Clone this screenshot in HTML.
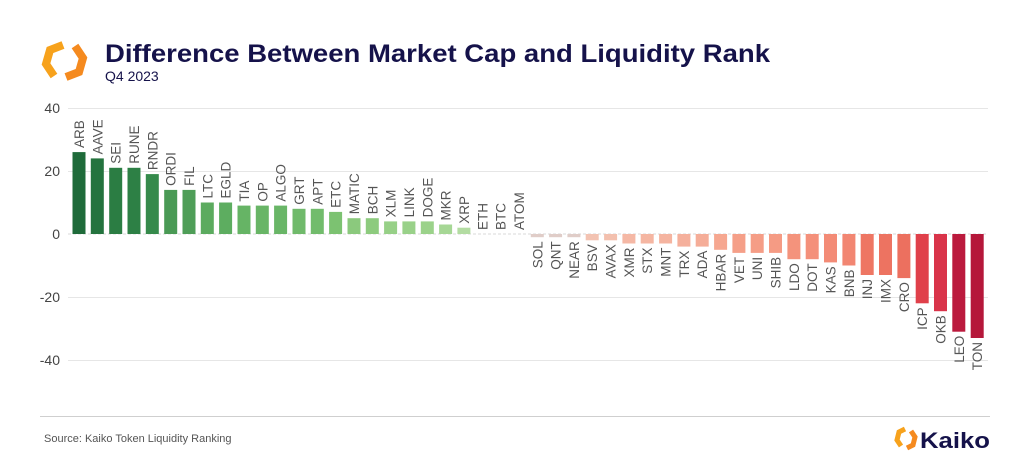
<!DOCTYPE html>
<html><head><meta charset="utf-8"><style>
html,body{margin:0;padding:0;background:#fff;}
svg{display:block;font-family:"Liberation Sans",Arial,sans-serif;}
.l{font-size:13.5px;fill:#555;}
.y{font-size:14px;fill:#444;text-anchor:end;}
</style></head><body>
<svg width="1024" height="473" viewBox="0 0 1024 473" xmlns="http://www.w3.org/2000/svg">
<rect width="1024" height="473" fill="#fff"/>
<!-- logo -->
<g fill="none" stroke-width="8" stroke-linejoin="miter">
<polyline points="63,45 50,50 46,64 54,76" stroke="#f7a21c"/>
<polyline points="66,77 79,72 83,58 75,46" stroke="#f58a1f"/>
</g>
<text x="105" y="62" font-size="25" font-weight="bold" fill="#15124a" textLength="665" lengthAdjust="spacingAndGlyphs">Difference Between Market Cap and Liquidity Rank</text>
<text x="105" y="81" font-size="14" fill="#15124a">Q4 2023</text>
<!-- grid -->
<g stroke="#e6e6e6" stroke-width="1">
<line x1="68" y1="108.5" x2="988" y2="108.5"/>
<line x1="68" y1="171.5" x2="988" y2="171.5"/>
<line x1="68" y1="297.5" x2="988" y2="297.5"/>
<line x1="68" y1="360.5" x2="988" y2="360.5"/>
</g>
<line x1="68" y1="234" x2="988" y2="234" stroke="#d8d8d8" stroke-width="1" stroke-dasharray="3,2"/>
<g class="y">
<text x="60" y="113">40</text>
<text x="60" y="176">20</text>
<text x="60" y="239">0</text>
<text x="60" y="302">-20</text>
<text x="60" y="365">-40</text>
</g>
<line x1="40" y1="416.5" x2="990" y2="416.5" stroke="#cfcfcf"/>
<text x="44" y="442" font-size="11" fill="#555">Source: Kaiko Token Liquidity Ranking</text>
<g fill="none" stroke-width="5">
<polyline points="905,429 899,432 897,440 901,446" stroke="#f7a21c"/>
<polyline points="907,448 913,445 915,437 911,431" stroke="#f58a1f"/>
</g>
<text x="920" y="448" font-size="22" font-weight="bold" fill="#15124a" textLength="70" lengthAdjust="spacingAndGlyphs">Kaiko</text>
<!-- bars -->
<g>
<rect x="72.5" y="152.1" width="13" height="81.9" fill="#1f6b3a"/>
<rect x="90.8" y="158.4" width="13" height="75.6" fill="#24733e"/>
<rect x="109.2" y="167.8" width="13" height="66.2" fill="#2b7d43"/>
<rect x="127.5" y="167.8" width="13" height="66.2" fill="#2d8045"/>
<rect x="145.8" y="174.1" width="13" height="59.9" fill="#358a4b"/>
<rect x="164.2" y="189.9" width="13" height="44.1" fill="#4a9a55"/>
<rect x="182.5" y="189.9" width="13" height="44.1" fill="#4f9e58"/>
<rect x="200.8" y="202.5" width="13" height="31.5" fill="#5cab5f"/>
<rect x="219.1" y="202.5" width="13" height="31.5" fill="#5dad60"/>
<rect x="237.5" y="205.6" width="13" height="28.4" fill="#66b465"/>
<rect x="255.8" y="205.6" width="13" height="28.4" fill="#68b566"/>
<rect x="274.1" y="205.6" width="13" height="28.4" fill="#69b667"/>
<rect x="292.5" y="208.8" width="13" height="25.2" fill="#70ba6b"/>
<rect x="310.8" y="208.8" width="13" height="25.2" fill="#72bc6c"/>
<rect x="329.1" y="211.9" width="13" height="22.1" fill="#7cc271"/>
<rect x="347.5" y="218.2" width="13" height="15.8" fill="#8bc97d"/>
<rect x="365.8" y="218.2" width="13" height="15.8" fill="#8dcb7e"/>
<rect x="384.1" y="221.4" width="13" height="12.6" fill="#97d087"/>
<rect x="402.4" y="221.4" width="13" height="12.6" fill="#99d189"/>
<rect x="420.8" y="221.4" width="13" height="12.6" fill="#9bd28a"/>
<rect x="439.1" y="224.5" width="13" height="9.5" fill="#a6d795"/>
<rect x="457.4" y="227.7" width="13" height="6.3" fill="#b3dca2"/>
<rect x="530.8" y="234" width="13" height="3.2" fill="#e0cdc8"/>
<rect x="549.1" y="234" width="13" height="3.2" fill="#e0cdc8"/>
<rect x="567.4" y="234" width="13" height="3.2" fill="#e0cdc8"/>
<rect x="585.7" y="234" width="13" height="6.3" fill="#f3c3b2"/>
<rect x="604.1" y="234" width="13" height="6.3" fill="#f3c0ae"/>
<rect x="622.4" y="234" width="13" height="9.5" fill="#f5b8a5"/>
<rect x="640.7" y="234" width="13" height="9.5" fill="#f5b6a2"/>
<rect x="659.1" y="234" width="13" height="9.5" fill="#f5b4a0"/>
<rect x="677.4" y="234" width="13" height="12.6" fill="#f5b09c"/>
<rect x="695.7" y="234" width="13" height="12.6" fill="#f5ad98"/>
<rect x="714.1" y="234" width="13" height="15.8" fill="#f6a790"/>
<rect x="732.4" y="234" width="13" height="18.9" fill="#f59f88"/>
<rect x="750.7" y="234" width="13" height="18.9" fill="#f59d86"/>
<rect x="769" y="234" width="13" height="18.9" fill="#f59b84"/>
<rect x="787.4" y="234" width="13" height="25.2" fill="#f4937c"/>
<rect x="805.7" y="234" width="13" height="25.2" fill="#f4907a"/>
<rect x="824" y="234" width="13" height="28.4" fill="#f38b76"/>
<rect x="842.4" y="234" width="13" height="31.5" fill="#f28672"/>
<rect x="860.7" y="234" width="13" height="41" fill="#ee7663"/>
<rect x="879" y="234" width="13" height="41" fill="#ed7361"/>
<rect x="897.4" y="234" width="13" height="44.1" fill="#ec705f"/>
<rect x="915.7" y="234" width="13" height="69.3" fill="#e0404a"/>
<rect x="934" y="234" width="13" height="77.2" fill="#d9344a"/>
<rect x="952.3" y="234" width="13" height="97.7" fill="#bb1a3d"/>
<rect x="970.7" y="234" width="13" height="104" fill="#b5173a"/>
</g>
<!-- labels -->
<g class="l">
<text transform="translate(84,148) rotate(-90)">ARB</text>
<text transform="translate(102.3,154.4) rotate(-90)">AAVE</text>
<text transform="translate(120.7,163.8) rotate(-90)">SEI</text>
<text transform="translate(139,163.8) rotate(-90)">RUNE</text>
<text transform="translate(157.3,170.1) rotate(-90)">RNDR</text>
<text transform="translate(175.7,185.9) rotate(-90)">ORDI</text>
<text transform="translate(194,185.9) rotate(-90)">FIL</text>
<text transform="translate(212.3,198.5) rotate(-90)">LTC</text>
<text transform="translate(230.6,198.5) rotate(-90)">EGLD</text>
<text transform="translate(249,201.6) rotate(-90)">TIA</text>
<text transform="translate(267.3,201.6) rotate(-90)">OP</text>
<text transform="translate(285.6,201.6) rotate(-90)">ALGO</text>
<text transform="translate(304,204.8) rotate(-90)">GRT</text>
<text transform="translate(322.3,204.8) rotate(-90)">APT</text>
<text transform="translate(340.6,207.9) rotate(-90)">ETC</text>
<text transform="translate(359,214.2) rotate(-90)">MATIC</text>
<text transform="translate(377.3,214.2) rotate(-90)">BCH</text>
<text transform="translate(395.6,217.4) rotate(-90)">XLM</text>
<text transform="translate(413.9,217.4) rotate(-90)">LINK</text>
<text transform="translate(432.3,217.4) rotate(-90)">DOGE</text>
<text transform="translate(450.6,220.5) rotate(-90)">MKR</text>
<text transform="translate(468.9,223.7) rotate(-90)">XRP</text>
<text transform="translate(487.3,230) rotate(-90)">ETH</text>
<text transform="translate(505.6,230) rotate(-90)">BTC</text>
<text transform="translate(523.9,230) rotate(-90)">ATOM</text>
</g>
<g class="l" text-anchor="end">
<text transform="translate(542.3,241.2) rotate(-90)">SOL</text>
<text transform="translate(560.6,241.2) rotate(-90)">QNT</text>
<text transform="translate(578.9,241.2) rotate(-90)">NEAR</text>
<text transform="translate(597.2,244.3) rotate(-90)">BSV</text>
<text transform="translate(615.6,244.3) rotate(-90)">AVAX</text>
<text transform="translate(633.9,247.5) rotate(-90)">XMR</text>
<text transform="translate(652.2,247.5) rotate(-90)">STX</text>
<text transform="translate(670.6,247.5) rotate(-90)">MNT</text>
<text transform="translate(688.9,250.6) rotate(-90)">TRX</text>
<text transform="translate(707.2,250.6) rotate(-90)">ADA</text>
<text transform="translate(725.6,253.8) rotate(-90)">HBAR</text>
<text transform="translate(743.9,256.9) rotate(-90)">VET</text>
<text transform="translate(762.2,256.9) rotate(-90)">UNI</text>
<text transform="translate(780.5,256.9) rotate(-90)">SHIB</text>
<text transform="translate(798.9,263.2) rotate(-90)">LDO</text>
<text transform="translate(817.2,263.2) rotate(-90)">DOT</text>
<text transform="translate(835.5,266.4) rotate(-90)">KAS</text>
<text transform="translate(853.9,269.5) rotate(-90)">BNB</text>
<text transform="translate(872.2,279) rotate(-90)">INJ</text>
<text transform="translate(890.5,279) rotate(-90)">IMX</text>
<text transform="translate(908.9,282.1) rotate(-90)">CRO</text>
<text transform="translate(927.2,307.3) rotate(-90)">ICP</text>
<text transform="translate(945.5,315.2) rotate(-90)">OKB</text>
<text transform="translate(963.8,335.7) rotate(-90)">LEO</text>
<text transform="translate(982.2,342) rotate(-90)">TON</text>
</g>
</svg>
</body></html>
